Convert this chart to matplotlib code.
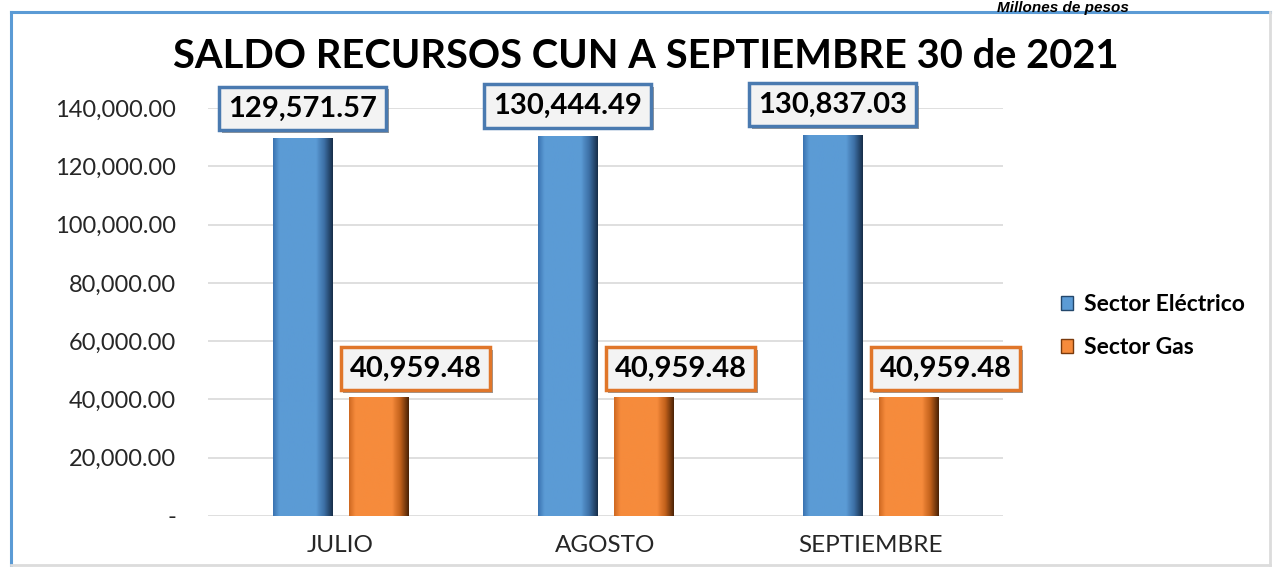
import matplotlib
matplotlib.use("Agg")
import matplotlib.pyplot as plt
import numpy as np
from matplotlib.lines import Line2D
from matplotlib.patches import Patch
from matplotlib.colors import LinearSegmentedColormap
import matplotlib.patheffects as pe

# ---- data ----
categories = ["JULIO", "AGOSTO", "SEPTIEMBRE"]
sector_electrico = [129571.57, 130444.49, 130837.03]
sector_gas = [40959.48, 40959.48, 40959.48]
series_names = ["Sector Eléctrico", "Sector Gas"]
yticks = [0, 20000, 40000, 60000, 80000, 100000, 120000, 140000]
title = "SALDO RECURSOS CUN A SEPTIEMBRE 30 de 2021"
subtitle = "Millones de pesos"

BLUE = "#5b9bd5"
BLUE_DARK = "#23476b"
ORANGE = "#f68b3c"
ORANGE_DARK = "#7a3a0c"
FONT = "Lato"

blue_cmap = LinearSegmentedColormap.from_list(
    "b", [(0, "#3b74b2"), (0.1, "#5b9bd5"), (0.72, "#5b9bd5"),
          (0.86, "#3d70a6"), (1.0, "#18304c")])
orange_cmap = LinearSegmentedColormap.from_list(
    "o", [(0, "#d06a22"), (0.1, "#f68b3c"), (0.72, "#f68b3c"),
          (0.86, "#c4621c"), (1.0, "#4e2406")])

fig = plt.figure(figsize=(12.73, 5.67), dpi=100)
fig.patch.set_facecolor("white")

W, H = 1273, 567
ax = fig.add_axes([208 / W, 1 - 516 / H, (1003 - 208) / W, (516 - 108) / H])

x = np.arange(len(categories))
off = 0.143
bw = 0.223
grad = np.linspace(0, 1, 64).reshape(1, -1)

def gradient_bars(xpos, vals, cmap, base):
    bars = ax.bar(xpos, vals, width=bw, color=base, zorder=3)
    for r in bars:
        bx, by, w, h = r.get_x(), r.get_y(), r.get_width(), r.get_height()
        im = ax.imshow(grad, cmap=cmap, extent=[bx, bx + w, by, by + h],
                       aspect="auto", zorder=4, interpolation="bilinear")
        im.set_clip_path(r)
    return bars

gradient_bars(x - off, sector_electrico, blue_cmap, BLUE)
gradient_bars(x + off, sector_gas, orange_cmap, ORANGE)

ax.set_xlim(-0.5, len(categories) - 0.5)
ax.set_ylim(0, 140000)
ax.set_yticks(yticks)
ax.set_yticklabels(["-" if v == 0 else f"{v:,.2f}" for v in yticks],
                   fontsize=17, color="#262626", family=FONT)
ax.set_xticks(x)
ax.set_xticklabels(categories, fontsize=17.5, color="#262626", family=FONT)
ax.tick_params(axis="y", length=0, pad=23)
ax.tick_params(axis="x", length=0, pad=14)
for s in ax.spines.values():
    s.set_visible(False)
ax.yaxis.grid(True, color="#d9d9d9", linewidth=1.2, zorder=0)
ax.set_axisbelow(True)

def label(xv, yv, txt, edge, dx, dy):
    t = ax.annotate(txt, (xv, yv), xytext=(dx, dy), textcoords="offset pixels",
                    ha="center", va="center", fontsize=21, fontweight="bold",
                    family=FONT, color="black", zorder=6,
                    bbox=dict(boxstyle="square,pad=0.3", facecolor="#f3f3f3",
                              edgecolor=edge, linewidth=2.5))
    t.get_bbox_patch().set_path_effects([
        pe.SimplePatchShadow(offset=(2, -2), shadow_rgbFace="#555555", alpha=0.6),
        pe.Normal()])

for xi, v in zip(x - off, sector_electrico):
    label(xi, v, f"{v:,.2f}", "#4a7ab0", 0, 30)
for xi, v in zip(x + off, sector_gas):
    label(xi, v, f"{v:,.2f}", "#e0762a", 37, 28)

fig.text(646 / W, 1 - 56 / H, title, ha="center", va="center",
         fontsize=28.7, fontweight="bold", family=FONT, color="black")
fig.text(1063 / W, 1 - 1 / H, subtitle, ha="center", va="top",
         fontsize=11, fontweight="bold", style="italic",
         family="Liberation Sans", color="black")

handles = [Patch(facecolor=BLUE, edgecolor=BLUE_DARK),
           Patch(facecolor=ORANGE, edgecolor=ORANGE_DARK)]
leg = fig.legend(handles, series_names, loc="center left",
                 bbox_to_anchor=(1040 / W, 1 - 326 / H), frameon=False,
                 handlelength=0.55, handleheight=0.55, handletextpad=0.45,
                 labelspacing=0.95,
                 prop=dict(family=FONT, weight="bold", size=16.5))

# frame
fig.add_artist(Line2D([11 / W, 1270 / W], [1 - 12 / H, 1 - 12 / H],
                      transform=fig.transFigure, color="#5b9bd5", linewidth=2.2))
fig.add_artist(Line2D([11 / W, 11 / W], [1 - 12 / H, 0],
                      transform=fig.transFigure, color="#5b9bd5", linewidth=2.2))
fig.add_artist(Line2D([1270 / W, 1270 / W], [1 - 12 / H, 1 - 565 / H],
                      transform=fig.transFigure, color="#dcdcdc", linewidth=2))
fig.add_artist(Line2D([11 / W, 1270 / W], [1 - 565 / H, 1 - 565 / H],
                      transform=fig.transFigure, color="#dcdcdc", linewidth=2))

fig.savefig("out.png", dpi=100)
